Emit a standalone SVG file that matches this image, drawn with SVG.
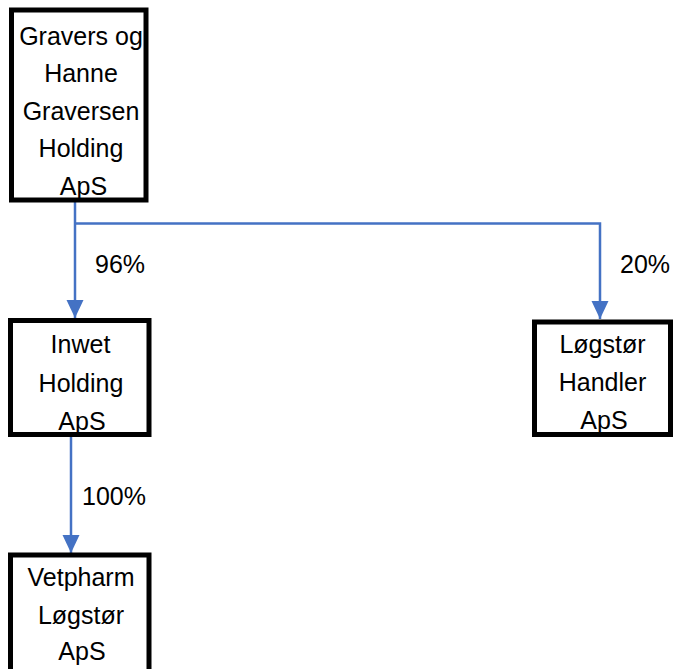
<svg xmlns="http://www.w3.org/2000/svg" width="674" height="669" viewBox="0 0 674 669">
<style>
.box{fill:#fff;stroke:#000;stroke-width:5}
.t{font-family:"Liberation Sans",Arial,sans-serif;font-size:25px;fill:#000;text-anchor:middle}
.l{font-family:"Liberation Sans",Arial,sans-serif;font-size:25px;fill:#000}
.c{fill:none;stroke:#4472C4;stroke-width:2.5}
</style>
<defs>
<marker id="ah" markerUnits="userSpaceOnUse" markerWidth="18" markerHeight="20" refX="18" refY="8.5" orient="auto">
<path d="M0,0 L18,8.5 L0,17 Z" fill="#4472C4"/>
</marker>
</defs>
<rect width="674" height="669" fill="#fff"/>
<g id="connectors">
<path class="c" d="M75,202 V318" marker-end="url(#ah)"/>
<path class="c" d="M75,223.5 H600 V319" marker-end="url(#ah)"/>
<path class="c" d="M71,437 V553" marker-end="url(#ah)"/>
<text class="l" x="95" y="273">96%</text>
<text class="l" x="620" y="273">20%</text>
<text class="l" x="82" y="505">100%</text>
</g>
<g id="node-gravers">
<rect class="box" x="11.5" y="10" width="134.5" height="190"/>
<text class="t" x="81" y="45">Gravers og</text>
<text class="t" x="81" y="82">Hanne</text>
<text class="t" x="81" y="120">Graversen</text>
<text class="t" x="81" y="157">Holding</text>
<text class="t" x="83.5" y="195">ApS</text>
</g>
<g id="node-inwet">
<rect class="box" x="10.5" y="320.5" width="138.5" height="114"/>
<text class="t" x="80.5" y="353">Inwet</text>
<text class="t" x="81" y="392">Holding</text>
<text class="t" x="82" y="430">ApS</text>
</g>
<g id="node-logstor-handler">
<rect class="box" x="534.5" y="322" width="136" height="112.5"/>
<text class="t" x="602.5" y="353">Løgstør</text>
<text class="t" x="602.5" y="391">Handler</text>
<text class="t" x="604" y="429">ApS</text>
</g>
<g id="node-vetpharm">
<rect class="box" x="10.5" y="555" width="138.5" height="120"/>
<text class="t" x="81" y="586">Vetpharm</text>
<text class="t" x="81" y="624">Løgstør</text>
<text class="t" x="82" y="660">ApS</text>
</g>
</svg>
